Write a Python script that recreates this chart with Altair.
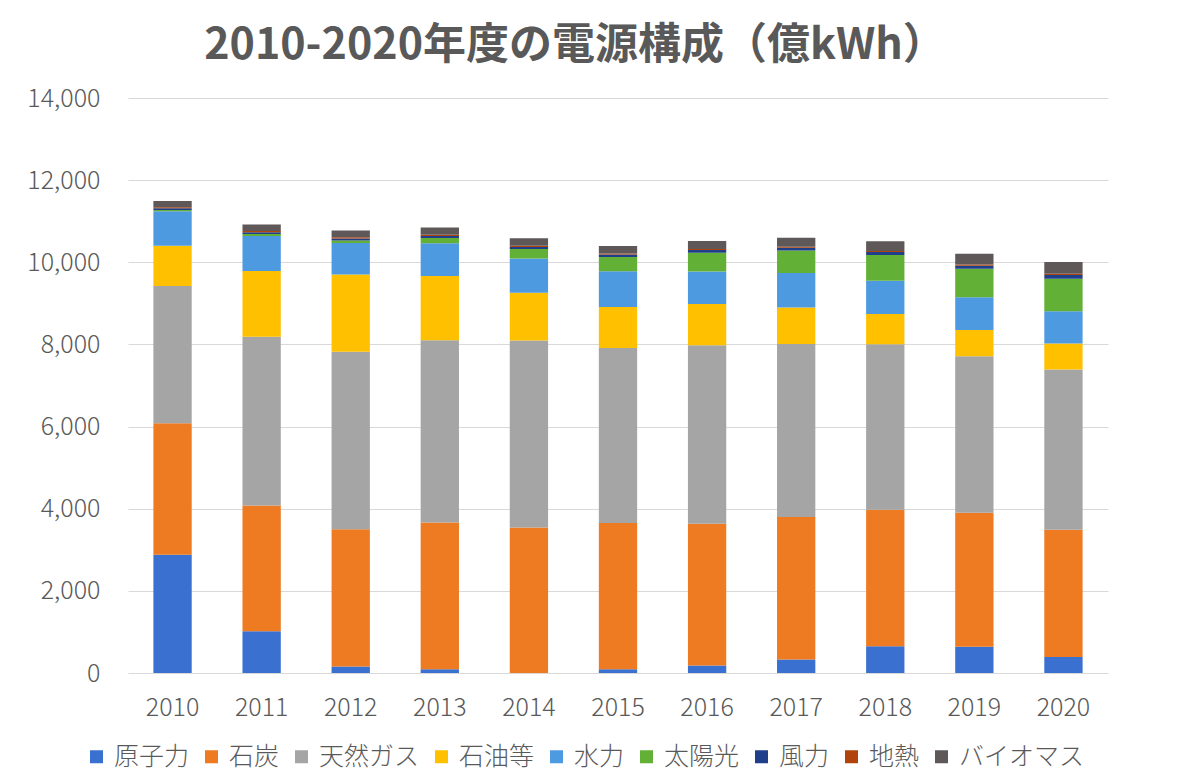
import altair as alt
import pandas as pd

years = ["2010", "2011", "2012", "2013", "2014", "2015", "2016", "2017", "2018", "2019", "2020"]
sources = ["原子力", "石炭", "天然ガス", "石油等", "水力", "太陽光", "風力", "地熱", "バイオマス"]
colors = ["#3a70d0", "#ee7a22", "#a5a5a5", "#ffc000", "#4e9ae0", "#62b036", "#1f3f8a", "#b0440a", "#5e5858"]

nuclear = [2882, 1018, 159, 93, 0, 94, 181, 329, 649, 638, 388]
coal = [3199, 3058, 3340, 3571, 3544, 3560, 3450, 3470, 3324, 3261, 3101]
gas = [3339, 4113, 4320, 4435, 4552, 4257, 4350, 4211, 4030, 3814, 3899]
oil = [983, 1601, 1883, 1568, 1162, 1001, 1001, 889, 735, 641, 636]
hydro = [838, 849, 765, 794, 835, 871, 795, 838, 810, 796, 784]
solar = [35, 48, 66, 129, 230, 348, 458, 551, 627, 690, 791]
wind = [40, 47, 48, 52, 52, 56, 62, 65, 75, 77, 90]
geothermal = [26, 27, 26, 26, 26, 26, 25, 25, 25, 28, 30]
biomass = [152, 159, 168, 178, 182, 185, 197, 219, 236, 262, 288]

series = [nuclear, coal, gas, oil, hydro, solar, wind, geothermal, biomass]

rows = []
for i, (name, vals) in enumerate(zip(sources, series)):
    for y, v in zip(years, vals):
        rows.append({"year": y, "source": name, "value": v, "idx": i})
df = pd.DataFrame(rows)

FONT = "Noto Sans CJK JP"
GRAY = "#595959"

chart = alt.Chart(df).mark_bar().encode(
    x=alt.X("year:N", sort=years,
            scale=alt.Scale(paddingInner=0.57, paddingOuter=0.285),
            axis=alt.Axis(title=None, labelAngle=0, domain=False, ticks=False, grid=False,
                          labelFontSize=25, labelColor=GRAY, labelFont=FONT,
                          labelPadding=22, labelFontWeight=300)),
    y=alt.Y("value:Q", stack="zero",
            scale=alt.Scale(domain=[0, 14000], nice=False),
            axis=alt.Axis(title=None, values=list(range(0, 14001, 2000)), format=",d",
                          domain=False, ticks=False, gridColor="#d9d9d9", gridWidth=1.2,
                          labelFontSize=25, labelColor=GRAY, labelFont=FONT,
                          labelPadding=28, labelFontWeight=300)),
    color=alt.Color("source:N", sort=sources,
                    scale=alt.Scale(domain=sources, range=colors),
                    legend=alt.Legend(title=None, orient="none", legendX=-44, legendY=646,
                                      direction="horizontal", columns=9, columnPadding=9,
                                      symbolType="square", symbolSize=169, symbolStrokeWidth=0,
                                      labelFontSize=25, labelColor=GRAY, labelFont=FONT,
                                      labelOffset=5, labelFontWeight=300)),
    order=alt.Order("idx:Q", sort="ascending"),
).properties(
    width=980,
    height=575,
    title=alt.TitleParams("2010-2020年度の電源構成（億kWh）", fontSize=43, fontWeight="bold",
                          color=GRAY, font=FONT, anchor="middle", dx=-43, offset=18),
    autosize=alt.AutoSizeParams(type="none"),
    padding={"left": 120, "top": 90, "right": 84, "bottom": 100},
).configure_view(stroke=None)

chart.save("out.html", embed_options={"renderer": "svg", "actions": False})
